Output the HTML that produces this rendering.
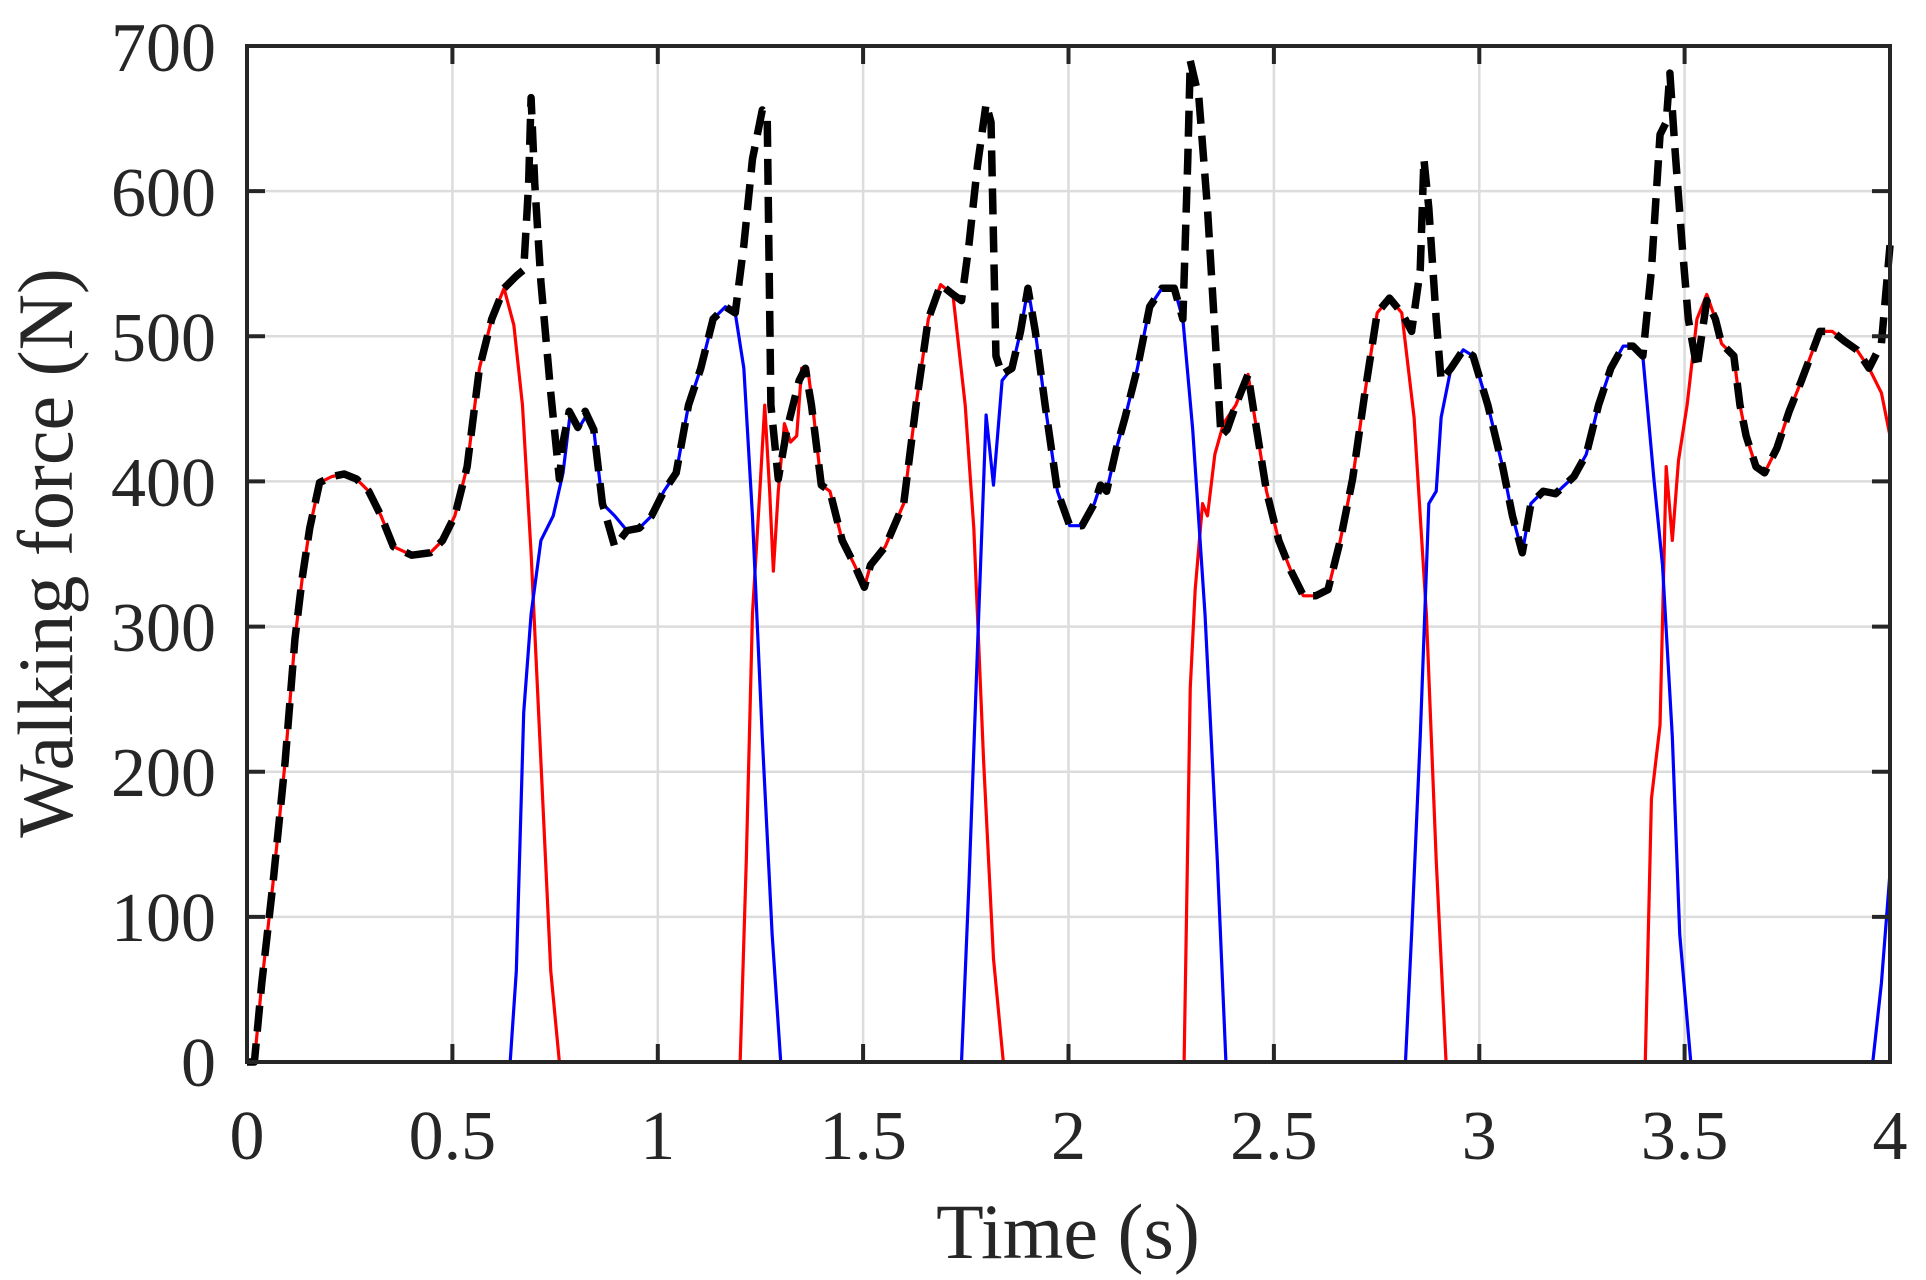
<!DOCTYPE html>
<html><head><meta charset="utf-8"><style>
html,body{margin:0;padding:0;background:#fff}
svg{display:block}
text{font-family:"Liberation Serif",serif;fill:#262626}
</style></head><body>
<svg width="1926" height="1280" viewBox="0 0 1926 1280" xmlns="http://www.w3.org/2000/svg">
<rect width="1926" height="1280" fill="#fff"/>
<g stroke="#dcdcdc" stroke-width="2.5">
<line x1="452.4" y1="46" x2="452.4" y2="1062"/><line x1="657.8" y1="46" x2="657.8" y2="1062"/>
<line x1="863.1" y1="46" x2="863.1" y2="1062"/><line x1="1068.5" y1="46" x2="1068.5" y2="1062"/>
<line x1="1273.9" y1="46" x2="1273.9" y2="1062"/><line x1="1479.3" y1="46" x2="1479.3" y2="1062"/>
<line x1="1684.6" y1="46" x2="1684.6" y2="1062"/>
<line x1="247" y1="191.1" x2="1890" y2="191.1"/><line x1="247" y1="336.3" x2="1890" y2="336.3"/>
<line x1="247" y1="481.4" x2="1890" y2="481.4"/><line x1="247" y1="626.6" x2="1890" y2="626.6"/>
<line x1="247" y1="771.7" x2="1890" y2="771.7"/><line x1="247" y1="916.9" x2="1890" y2="916.9"/>
</g>
<g transform="translate(247,46) scale(1.2298,1.23) translate(-201,-38)" fill="none" stroke-linejoin="round">
<polyline vector-effect="non-scaling-stroke" stroke="#ff0000" stroke-width="3.2" points="207,864 213,800 222,720 232,620 240,520 246,470 252,430 260,393 270,388 280,386 290,390 300,400 310,420 320,445 335,452 350,450 360,440 370,420 380,380 390,300 400,260 410,235 418,265 425,330 432,450 440,620 448,790 455,864"/>
<polyline vector-effect="non-scaling-stroke" stroke="#ff0000" stroke-width="3.2" points="602,864 607,700 612,500 618,400 622,330 626,400 629,465 633,400 638,345 643,360 648,355 652,300 657,300 662,340 668,395 675,400 685,440 695,460 703,478 708,460 720,445 735,410 745,330 755,260 765,232 775,240 785,330 792,430 800,620 808,780 816,864"/>
<polyline vector-effect="non-scaling-stroke" stroke="#ff0000" stroke-width="3.2" points="963,864 968,560 972,480 978,410 982,420 988,370 995,345 1005,330 1015,305 1022,350 1030,400 1040,440 1050,465 1060,485 1070,485 1080,480 1090,440 1100,390 1110,320 1120,255 1130,243 1140,255 1150,340 1160,500 1168,700 1176,864"/>
<polyline vector-effect="non-scaling-stroke" stroke="#ff0000" stroke-width="3.2" points="1338,864 1343,650 1350,590 1355,380 1360,440 1365,375 1372,330 1380,260 1388,240 1395,260 1400,280 1410,290 1415,330 1420,355 1428,380 1435,385 1445,365 1455,335 1465,310 1480,270 1490,270 1500,278 1510,285 1520,300 1530,320 1537,355"/>
<polyline vector-effect="non-scaling-stroke" stroke="#ff0000" stroke-width="3.2" points="635,864 782,864"/>
<polyline vector-effect="non-scaling-stroke" stroke="#ff0000" stroke-width="3.2" points="816,864 963,864"/>
<polyline vector-effect="non-scaling-stroke" stroke="#ff0000" stroke-width="3.2" points="1176,864 1338,864"/>
<polyline vector-effect="non-scaling-stroke" stroke="#0000ff" stroke-width="3.2" points="201,864 415,864 420,790 426,580 432,500 440,440 450,420 458,385 464,335 470,350 476,340 483,350 490,410 500,420 510,432 520,430 530,420 540,400 550,385 560,330 570,300 580,260 590,250 598,255 605,300 612,420 620,600 628,760 635,864"/>
<polyline vector-effect="non-scaling-stroke" stroke="#0000ff" stroke-width="3.2" points="455,864 602,864"/>
<polyline vector-effect="non-scaling-stroke" stroke="#0000ff" stroke-width="3.2" points="782,864 788,720 796,500 802,338 808,395 815,310 823,300 830,270 836,235 842,270 850,330 860,400 870,428 880,428 890,410 895,395 900,400 908,365 915,340 925,300 935,250 945,235 955,235 962,260 970,350 980,500 990,700 997,864 1143,864 1148,760 1155,600 1162,410 1168,400 1172,340 1180,300 1190,285 1198,290 1210,330 1222,380 1230,420 1238,450 1245,410 1255,400 1265,402 1280,388 1290,370 1300,330 1310,300 1320,282 1328,282 1336,290 1345,390 1352,460 1360,600 1366,760 1375,864 1523,864 1530,800 1537,710"/>
<polyline vector-effect="non-scaling-stroke" stroke="#000" stroke-width="7.5" stroke-dasharray="26,12" points="201,864 207,864 213,800 222,720 232,620 240,520 246,470 252,430 260,393 270,388 280,386 290,390 300,400 310,420 320,445 335,452 350,450 360,440 370,420 380,380 390,300 400,260 410,235 420,225 426,220 430,150 432,80 435,150 440,230 448,320 455,390 458,360 463,335 470,348 476,335 483,350 490,410 500,445 510,432 520,430 530,420 540,400 550,385 560,330 570,300 580,260 590,250 598,255 605,200 612,130 620,90 624,95 627,330 633,390 640,350 650,310 655,300 660,330 668,395 675,400 685,440 695,460 703,478 708,460 720,445 735,410 745,330 755,260 765,232 775,240 782,245 788,200 795,135 802,85 806,100 810,290 815,305 823,300 830,270 836,235 842,270 850,330 860,400 870,428 880,428 890,410 895,395 900,400 908,365 915,340 925,300 935,250 945,235 955,235 962,260 966,130 968,50 975,80 982,170 988,270 993,355 998,350 1005,330 1015,305 1022,350 1030,400 1040,440 1050,465 1060,485 1070,485 1080,480 1090,440 1100,390 1110,320 1120,255 1130,243 1140,255 1148,270 1155,220 1158,130 1162,170 1168,260 1172,310 1180,300 1190,285 1198,290 1210,330 1222,380 1230,420 1238,450 1245,410 1255,400 1265,402 1280,388 1290,370 1300,330 1310,300 1320,282 1328,282 1336,290 1343,220 1350,110 1355,100 1358,60 1362,120 1368,200 1373,260 1380,300 1388,245 1395,260 1400,280 1410,290 1415,330 1420,355 1428,380 1435,385 1445,365 1455,335 1465,310 1480,270 1490,270 1500,278 1510,285 1520,300 1530,280 1537,200"/>
</g>
<g stroke="#262626" stroke-width="4" fill="none">
<rect x="247" y="46" width="1643" height="1016"/>
<path d="M452.4,1062v-18M657.8,1062v-18M863.1,1062v-18M1068.5,1062v-18M1273.9,1062v-18M1479.3,1062v-18M1684.6,1062v-18M452.4,46v18M657.8,46v18M863.1,46v18M1068.5,46v18M1273.9,46v18M1479.3,46v18M1684.6,46v18"/>
<path d="M247,191.1h18M247,336.3h18M247,481.4h18M247,626.6h18M247,771.7h18M247,916.9h18M1890,191.1h-18M1890,336.3h-18M1890,481.4h-18M1890,626.6h-18M1890,771.7h-18M1890,916.9h-18"/>
</g>
<g font-size="70" text-anchor="end">
<text x="216" y="71">700</text><text x="216" y="216">600</text><text x="216" y="361">500</text>
<text x="216" y="506">400</text><text x="216" y="651">300</text><text x="216" y="796">200</text>
<text x="216" y="941">100</text><text x="216" y="1086">0</text>
</g>
<g font-size="70" text-anchor="middle">
<text x="247" y="1159">0</text><text x="452.4" y="1159">0.5</text><text x="657.8" y="1159">1</text>
<text x="863.1" y="1159">1.5</text><text x="1068.5" y="1159">2</text><text x="1273.9" y="1159">2.5</text>
<text x="1479.3" y="1159">3</text><text x="1684.6" y="1159">3.5</text><text x="1890" y="1159">4</text>
</g>
<text x="1068" y="1258" font-size="78" text-anchor="middle">Time (s)</text>
<text transform="translate(72,553) rotate(-90)" font-size="78" text-anchor="middle">Walking force (N)</text>
</svg>
</body></html>
